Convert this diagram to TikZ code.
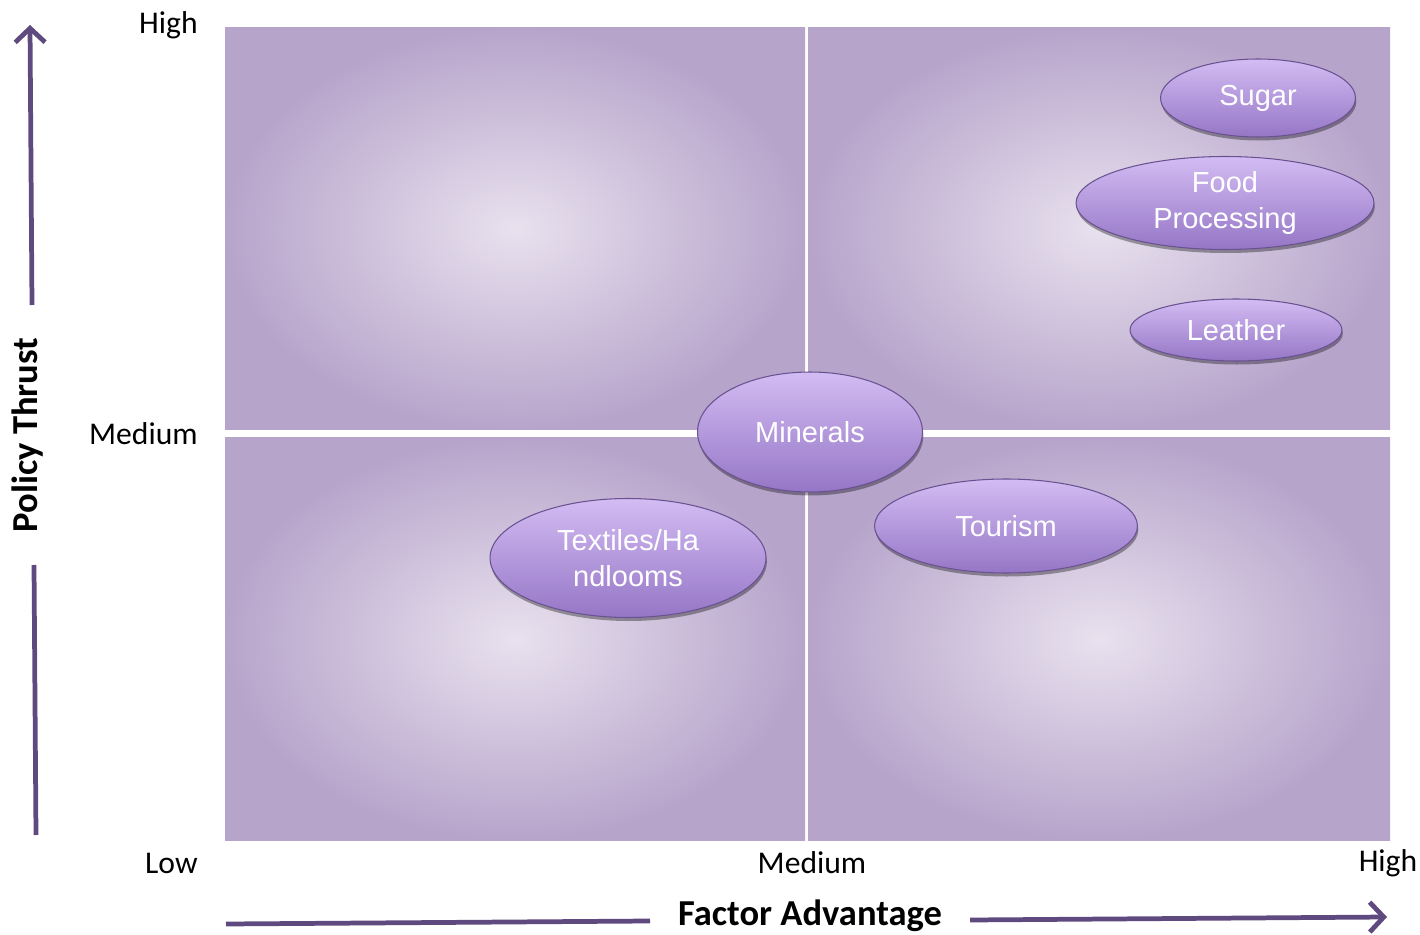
\documentclass[tikz,border=0pt]{standalone}
\usepackage{fontspec}
\setmainfont{Carlito}
\newfontfamily\ellfont{Liberation Sans}
\usetikzlibrary{shapes.geometric,shadows,arrows.meta}
\definecolor{quadEdge}{HTML}{B7A4CB}
\definecolor{quadMid}{HTML}{E8E1EE}
\definecolor{ellTop}{HTML}{D3BCF3}
\definecolor{ellBot}{HTML}{9576C6}
\definecolor{ellLine}{HTML}{6A5291}
\definecolor{axisPurple}{HTML}{5E4A7E}

\begin{document}
\begin{tikzpicture}[
            x=0.02cm, y=-0.02cm,
            quad/.style={inner color=quadMid, outer color=quadEdge},
            sector/.style={ellipse, draw=ellLine, line width=0.6pt, top color=ellTop, bottom color=ellBot,
                text=white, font=\ellfont\fontsize{16.5}{20.4}\selectfont, align=center, inner sep=0pt,
                drop shadow={shadow xshift=0.5pt, shadow yshift=-2pt, opacity=0.35, fill=black}},
            lvl/.style={font=\fontsize{18}{20}\selectfont, inner sep=0pt},
            axisTitle/.style={font=\bfseries\fontsize{20.8}{22}\selectfont, inner sep=0pt},
            axisStroke/.style={draw=axisPurple, line width=2.7pt}
        ]

        \useasboundingbox (0,0) rectangle (1420,935);

        % quadrants
        \shade [quad] (225,28) rectangle (805,430);
        \shade [quad] (808,28) rectangle (1390,430);
        \shade [quad] (225,438) rectangle (805,840);
        \shade [quad] (808,438) rectangle (1390,840);

        % level labels
        \node [lvl, anchor=east] (yHigh) at (198,25) {High};
        \node [lvl, anchor=east] (yMed) at (198,434) {Medium};
        \node [lvl, anchor=east] (yLow) at (198,863) {Low};
        \node [lvl] (xMed) at (812,863) {Medium};
        \node [lvl] (xHigh) at (1388,863) {High};

        % axis titles
        \node [axisTitle, rotate=90] (policy) at (28,435) {Policy Thrust};
        \node [axisTitle] (factor) at (810,916) {Factor Advantage};

        \coordinate (yTop) at (30,25);
        \coordinate (yUp) at (32,305);
        \coordinate (yDown) at (34,565);
        \coordinate (yBot) at (36,835);
        \coordinate (xLeft) at (226,924);
        \coordinate (xIn) at (650,921);
        \coordinate (xOut) at (970,920);
        \coordinate (xRight) at (1387,917);

        \draw [axisStroke, -{Straight Barb[length=8pt, width=17pt]}] (yUp) -- (yTop);
        \draw [axisStroke] (yBot) -- (yDown);
        \draw [axisStroke] (xLeft) -- (xIn);
        \draw [axisStroke, -{Straight Barb[length=8pt, width=17pt]}] (xOut) -- (xRight);

        % sectors
        \node [sector, minimum width=3.9cm, minimum height=1.56cm] (sugar) at (1258,98) {Sugar};
        \node [sector, minimum width=5.96cm, minimum height=1.86cm] (food) at (1225,203) {Food\\Processing};
        \node [sector, minimum width=4.24cm, minimum height=1.24cm] (leather) at (1236,330) {Leather};
        \node [sector, minimum width=4.5cm, minimum height=2.4cm] (minerals) at (810,432) {Minerals};
        \node [sector, minimum width=5.26cm, minimum height=1.88cm] (tourism) at (1006,526) {Tourism};
        \node [sector, minimum width=5.52cm, minimum height=2.38cm] (textiles) at (628,558) {Textiles/Ha\\ndlooms};

    \end{tikzpicture}
\end{document}
